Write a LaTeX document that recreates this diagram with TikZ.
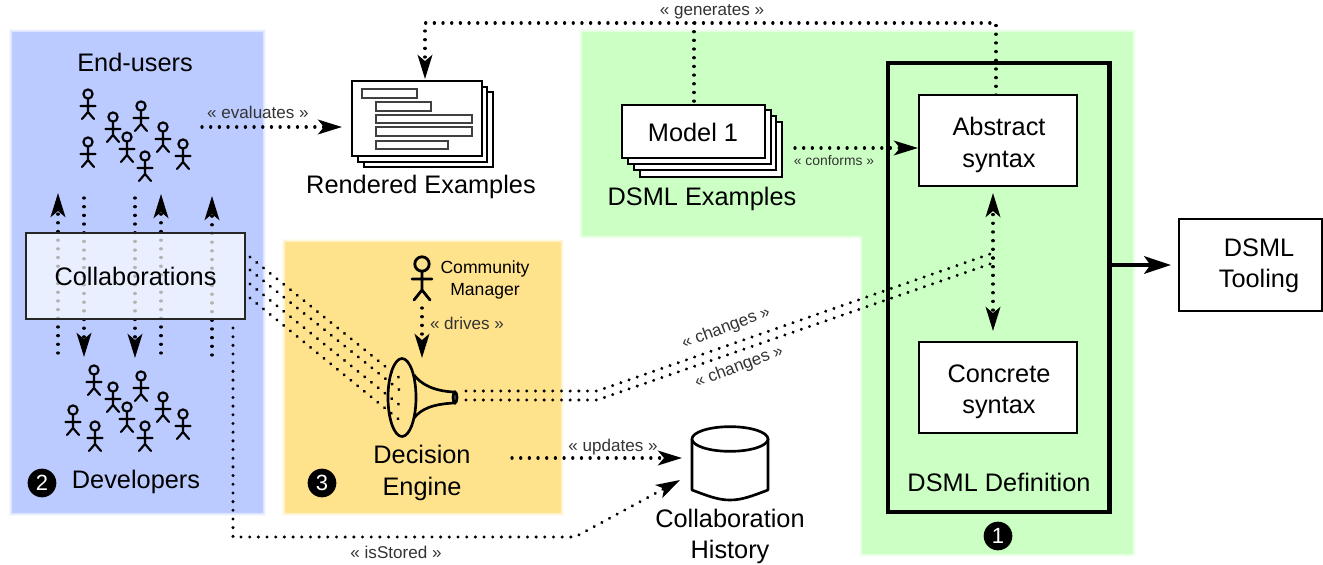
\documentclass[tikz,border=0pt]{standalone}
\usepackage{fontspec}
\setmainfont{Liberation Sans}
\usetikzlibrary{arrows.meta,shapes.geometric}
\definecolor{blueregion}{HTML}{BBCAFF}
\definecolor{greenregion}{HTML}{CCFFC4}
\definecolor{yellowregion}{HTML}{FFE38C}
\definecolor{labelgray}{HTML}{333333}
\tikzset{
  softregion/.style={fill=#1,draw=#1,line join=round,line width=1pt,draw opacity=.8,
    preaction={draw=#1,line width=6.5pt,draw opacity=.12},
    preaction={draw=#1,line width=5pt,draw opacity=.2},
    preaction={draw=#1,line width=3.5pt,draw opacity=.3},
    preaction={draw=#1,line width=2pt,draw opacity=.4}},
  bigtext/.style={font=\fontsize{19}{23.6}\selectfont,align=center,inner sep=0pt,text=black},
  smalltext/.style={font=\fontsize{13.2}{16.5}\selectfont,align=center,inner sep=0pt},
  stereo/.style={font=\fontsize{12.8}{15}\selectfont,inner sep=0pt,text=labelgray},
  dotline/.style={line width=2.5pt,line cap=round,dash pattern=on 0.01pt off 6.5pt,
    >={Stealth[length=18pt,width=11pt,inset=4.5pt,line cap=butt]}},
  whitebox/.style={draw=black,fill=white,line width=1.8pt,inner sep=0pt,anchor=north west,rectangle},
  stacksheet/.style={draw=black,fill=white,line width=1.8pt},
  bar/.style={draw=black!75,fill=white,line width=1.2pt},
  badge/.style={circle,fill=black,text=white,inner sep=0pt,minimum size=21.5pt,font=\fontsize{16.5}{16.5}\selectfont},
  actor/.pic={
    \draw[line width=1.6pt,line join=round,line cap=round]
      (0,0) circle[radius=4.6]
      (0,4.6) -- (0,18) (-7.5,12) -- (7.5,12)
      (-6,25) -- (0,18) -- (6,25);
  },
  bigactor/.pic={
    \draw[line width=2.1pt,line join=round,line cap=round]
      (0,0) circle[radius=7.2]
      (0,7.2) -- (0,26) (-10,15) -- (10,15)
      (-8,36) -- (0,26) -- (8,36);
  }
}
\begin{document}
\begin{tikzpicture}[x=.75pt,y=-.75pt]
\useasboundingbox (0,0) rectangle (1323,564);
\fill[white] (0,0) rectangle (1323,564);
% regions
\path[softregion=blueregion] (13,33) rectangle (262,512);
\path[softregion=yellowregion] (286,243) rectangle (560,512);
\path[softregion=greenregion] (583,33) -- (1132,33) -- (1132,553) -- (863,553) -- (863,235) -- (583,235) -- cycle;

% anchors for free ends
\coordinate (upAs) at (58,353);  \coordinate (upAe) at (58,193);
\coordinate (dnAs) at (84,198);  \coordinate (dnAe) at (84,357);
\coordinate (dnBs) at (135,198); \coordinate (dnBe) at (135,358);
\coordinate (upBs) at (161,353); \coordinate (upBe) at (161,194);
\coordinate (upCs) at (212,355); \coordinate (upCe) at (212,196);

% vertical flows through Collaborations
\draw[dotline,->] (upAs) -- (upAe);
\draw[dotline,->] (dnAs) -- (dnAe);
\draw[dotline,->] (dnBs) -- (dnBe);
\draw[dotline,->] (upBs) -- (upBe);
\draw[dotline,->] (upCs) -- (upCe);

\node[draw=black!85,line width=1.8pt,fill=white,fill opacity=.7,text opacity=1,
  minimum width=164pt,minimum height=64.5pt,inner sep=0pt,font=\fontsize{19}{23.6}\selectfont]
  (collab) at (135.5,276) {Collaborations};

% people
\foreach \px/\py in {88/94,88/142,113/117,127/137,141/106,145/156,163/127,183/144,
                     94/370,113/387,141/376,127/407,163/397,183/414,73/410,95/426,145/426}
  \pic at (\px,\py) {actor};
\pic at (422,264) {bigactor};

\node[bigtext] (endusers) at (135,62) {End-users};
\node[bigtext] (developers) at (136,482) {Developers};
\node[badge] (two) at (42,483) {2};
\node[badge] (three) at (322,483) {3};
\node[badge] (one) at (998,536) {1};

% funnel
\node[draw=black,line width=2pt,ellipse,minimum width=21pt,minimum height=58.5pt,inner sep=0pt] (funnel) at (402,397.5) {};
\draw[line width=2pt,line join=round] (414,375) .. controls (421,384) and (433,391) .. (454,392)
   (454,403) .. controls (433,404) and (421,409) .. (414,418);
\draw[line width=2pt,fill=black!60] (455,397.5) ellipse[x radius=2,y radius=5.5];
\node[bigtext] (decision) at (422,473) {Decision\\Engine};
\node[smalltext] (manager) at (485,280) {Community\\Manager};

% funnel inputs
\coordinate (cA) at (250,257); \coordinate (fA) at (402,380);
\coordinate (cB) at (250,270); \coordinate (fB) at (402,392);
\coordinate (cC) at (250,284); \coordinate (fC) at (402,407);
\coordinate (cD) at (250,298); \coordinate (fD) at (402,422);
\draw[dotline] (cA) -- (fA);
\draw[dotline] (cB) -- (fB);
\draw[dotline] (cC) -- (fC);
\draw[dotline] (cD) -- (fD);

% drives
\coordinate (mgrBottom) at (422,308);
\coordinate (funnelTop) at (422,358);
\draw[dotline,->] (mgrBottom) -- (funnelTop);
\node[stereo] (drivesL) at (467,323) {« drives »};

% changes
\coordinate (outA) at (466,391); \coordinate (bendA) at (597,391); \coordinate (endA) at (993,253);
\coordinate (outB) at (466,400); \coordinate (bendB) at (597,400); \coordinate (endB) at (993,263);
\draw[dotline] (outA) -- (bendA) -- (endA);
\draw[dotline] (outB) -- (bendB) -- (endB);
\node[stereo,rotate=20.5] (changesA) at (726,328) {« changes »};
\node[stereo,rotate=20.5] (changesB) at (739,367) {« changes »};

% Rendered examples
\draw[stacksheet] (364,92) rectangle (493,167);
\draw[stacksheet] (358,87) rectangle (487,162);
\node[whitebox,minimum width=97.5pt,minimum height=56.25pt] (rendered) at (351,80) {};
\draw[bar] (362,89) rectangle (417,98);
\draw[bar] (376,102) rectangle (431,111);
\draw[bar] (376,115) rectangle (472,123);
\draw[bar] (376,127) rectangle (472,136);
\draw[bar] (376,141) rectangle (448,149);
\node[bigtext] (renderedL) at (421,187) {Rendered Examples};

% evaluates
\coordinate (evalS) at (202,127);
\coordinate (evalE) at (342,127);
\draw[dotline,->] (evalS) -- (evalE);
\node[stereo] (evalL) at (258,112) {« evaluates »};

% generates
\coordinate (genR) at (996,95);
\coordinate (genRt) at (996,23);
\coordinate (genLt) at (425,23);
\coordinate (genE) at (425,79);
\coordinate (genM) at (694,23);
\coordinate (genMb) at (694,104);
\draw[dotline,->] (genR) -- (genRt) -- (genLt) -- (genE);
\draw[dotline] (genM) -- (genMb);
\node[stereo] (genL) at (712,12) {« generates »};

% Model stack
\draw[stacksheet] (640,122) rectangle (782,177);
\draw[stacksheet] (634,116) rectangle (776,170);
\draw[stacksheet] (628,110) rectangle (771,164);
\node[whitebox,minimum width=107.25pt,minimum height=39.75pt] (model) at (621,104) {};
\node[bigtext] (modelL) at (693,132) {Model 1};
\node[bigtext] (dsmlex) at (702,199) {DSML Examples};

% DSML definition
\node[draw=black,line width=3.3pt,inner sep=0pt,minimum width=166pt,minimum height=336.5pt,anchor=north west] (definition) at (886,61) {};
\node[bigtext] (defL) at (999,482) {DSML Definition};

% syntax arrows
\coordinate (synTop) at (993,193);
\coordinate (synBot) at (993,331);
\coordinate (synMid) at (993,258);
\draw[dotline,->] (synMid) -- (synTop);
\draw[dotline,->] (synMid) -- (synBot);

\node[whitebox,minimum width=118.5pt,minimum height=68.25pt] (abstract) at (918,94) {};
\node[bigtext] (abstractL) at (999,145) {Abstract\\syntax};
\node[whitebox,minimum width=118.5pt,minimum height=68.25pt] (concrete) at (918,341) {};
\node[bigtext] (concreteL) at (999,392) {Concrete\\syntax};

% conforms
\coordinate (confS) at (795,148);
\draw[dotline,->] (confS) -- (abstract.west |- confS);
\node[stereo,font=\fontsize{10.4}{12}\selectfont] (confL) at (834,161) {« conforms »};

% tooling
\node[whitebox,minimum width=107.5pt,minimum height=69pt] (tooling) at (1178,218) {};
\node[bigtext] (toolingL) at (1259,266) {DSML\\Tooling};
\coordinate (defOut) at (1111,265);
\draw[line width=3pt,-{Stealth[length=20pt,width=13pt,inset=4.5pt]}] (defOut) -- (1171,265);

% Cylinder
\draw[fill=white,line width=2pt,line join=round] (692,439) -- (692,490) .. controls (708,496) and (718,500) .. (730,500)
  .. controls (742,500) and (752,496) .. (768,490) -- (768,439);
\node[draw=black,fill=white,line width=2pt,ellipse,minimum width=57pt,minimum height=18.5pt,inner sep=0pt] (history) at (730,439) {};
\node[bigtext] (historyL) at (730,536.5) {Collaboration\\History};

% updates
\coordinate (updS) at (512,458);
\coordinate (updE) at (682,458);
\draw[dotline,->] (updS) -- (updE);
\node[stereo] (updL) at (613,447) {« updates »};

% isStored
\coordinate (stS) at (233,328);
\coordinate (stC) at (233,537);
\coordinate (stD) at (575,537);
\coordinate (stE) at (680,480);
\draw[dotline,->] (stS) -- (stC) -- (stD) -- (stE);
\node[stereo] (stL) at (396,552) {« isStored »};
\end{tikzpicture}
\end{document}
